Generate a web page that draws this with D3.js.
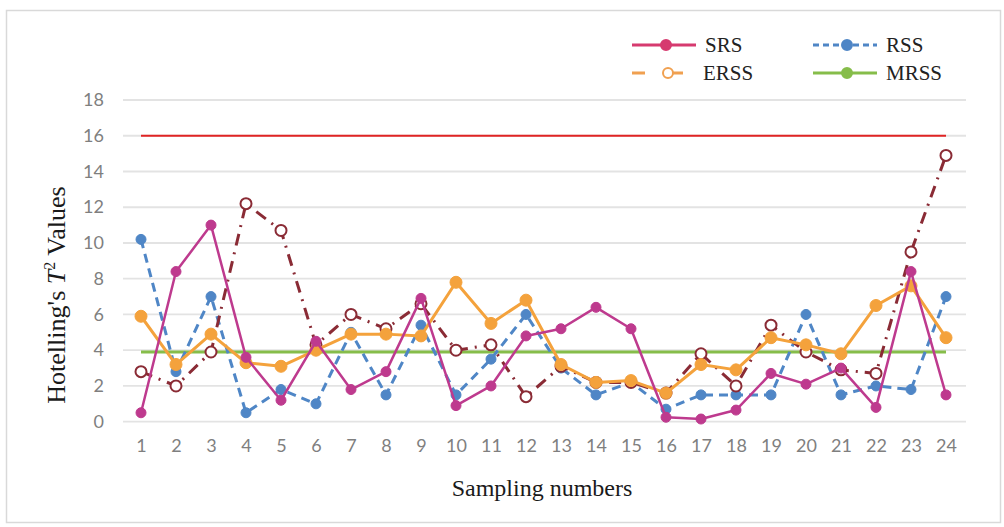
<!DOCTYPE html>
<html><head><meta charset="utf-8">
<script src="https://cdn.jsdelivr.net/npm/d3@7"></script>
<style>body{margin:0;background:#fff}svg{display:block}</style>
</head><body><svg id="c" width="1004" height="527"></svg>
<script>
const samples = d3.range(1, 25);
const yTicks = [0, 2, 4, 6, 8, 10, 12, 14, 16, 18];
const srs  = [0.5, 8.4, 11.0, 3.6, 1.2, 4.5, 1.8, 2.8, 6.9, 0.9, 2.0, 4.8, 5.2, 6.4, 5.2, 0.25, 0.15, 0.65, 2.7, 2.1, 3.0, 0.8, 8.4, 1.5];
const rss  = [10.2, 2.8, 7.0, 0.5, 1.8, 1.0, 5.0, 1.5, 5.4, 1.5, 3.5, 6.0, 3.0, 1.5, 2.2, 0.7, 1.5, 1.5, 1.5, 6.0, 1.5, 2.0, 1.8, 7.0];
const drss = [5.9, 3.2, 4.9, 3.3, 3.1, 4.0, 4.9, 4.9, 4.8, 7.8, 5.5, 6.8, 3.2, 2.2, 2.3, 1.6, 3.2, 2.9, 4.7, 4.3, 3.8, 6.5, 7.6, 4.7];
const erss = [2.8, 2.0, 3.9, 12.2, 10.7, 4.3, 6.0, 5.2, 6.6, 4.0, 4.3, 1.4, 3.1, 2.2, 2.2, 1.6, 3.8, 2.0, 5.4, 3.9, 2.9, 2.7, 9.5, 14.9];
const mrss = samples.map(() => 3.9);
const ucl = samples.map(() => 16);
const legendItems = [
  {name: "SRS", color: "#d63a6f", dash: null, open: false},
  {name: "RSS", color: "#4f86c6", dash: "6,4", open: false},
  {name: "ERSS", color: "#f0a050", dash: "13,18,20,20", open: true},
  {name: "MRSS", color: "#86bd4a", dash: null, open: false}
];

const svg = d3.select("#c");
svg.append("rect").attr("x", 6.5).attr("y", 10.5).attr("width", 994).attr("height", 512)
  .attr("fill", "#fff").attr("stroke", "#d9d9d9").attr("stroke-width", 1.5);

const x = d3.scalePoint().domain(samples).range([141, 946]);
const y = d3.scaleLinear().domain([0, 18]).range([421.7, 100]);

// gridlines
svg.append("g").selectAll("line").data(yTicks).join("line")
  .attr("x1", 123).attr("x2", 966).attr("y1", d => y(d)).attr("y2", d => y(d))
  .attr("stroke", "#e3e3e3").attr("stroke-width", 1.8);

// y axis labels
const yAxis = d3.axisLeft(y).tickValues(yTicks).tickSize(0).tickPadding(0);
const gy = svg.append("g").attr("transform", "translate(104,0)").call(yAxis);
gy.select(".domain").remove();
gy.selectAll("text").attr("font-family", "Lato, sans-serif").attr("font-size", 18).attr("fill", "#7f7f7f");

// x axis labels
const xAxis = d3.axisBottom(x).tickSize(0).tickPadding(0);
const gx = svg.append("g").attr("transform", "translate(0,439)").call(xAxis);
gx.select(".domain").remove();
gx.selectAll("text").attr("font-family", "Lato, sans-serif").attr("font-size", 18).attr("fill", "#7f7f7f");

const line = d3.line().x((d, i) => x(samples[i])).y(d => y(d));

function series(data, color, width, dash, marker) {
  svg.append("path").datum(data).attr("d", line).attr("fill", "none")
    .attr("stroke", color).attr("stroke-width", width)
    .attr("stroke-dasharray", dash || null).attr("stroke-linejoin", "round");
  if (marker) {
    svg.append("g").selectAll("circle").data(data).join("circle")
      .attr("cx", (d, i) => x(samples[i])).attr("cy", d => y(d)).attr("r", marker.r)
      .attr("fill", marker.fill).attr("stroke", marker.stroke).attr("stroke-width", marker.sw);
  }
}

series(ucl, "#e02424", 2.2, null, null);
series(mrss, "#86bd4a", 3, null, null);
series(rss, "#4f86c6", 3, "9,6", {r: 5, fill: "#4f86c6", stroke: "#4f86c6", sw: 1});
series(erss, "#8a2b35", 3, "12,7,2,7", {r: 5.5, fill: "#fff", stroke: "#8a2b35", sw: 2});
series(drss, "#f4a23c", 3, null, {r: 6, fill: "#f4a23c", stroke: "#f4a23c", sw: 1});
series(srs, "#be3a8e", 2.5, null, {r: 5, fill: "#be3a8e", stroke: "#be3a8e", sw: 1});

// legend
const legPos = [[632, 45], [813, 45], [632, 73], [813, 73]];
const lg = svg.append("g").selectAll("g").data(legendItems).join("g")
  .attr("transform", (d, i) => `translate(${legPos[i][0]},${legPos[i][1]})`);
lg.append("line").attr("x1", 0).attr("x2", 64).attr("y1", 0).attr("y2", 0)
  .attr("stroke", d => d.color).attr("stroke-width", 3)
  .attr("stroke-dasharray", d => d.dash);
lg.append("circle").attr("cx", d => d.open ? 36 : 34).attr("cy", 0).attr("r", 5)
  .attr("fill", d => d.open ? "#fff" : d.color).attr("stroke", d => d.color).attr("stroke-width", 2);
lg.append("text").attr("x", (d, i) => i === 2 ? 71 : 73).attr("y", 0).attr("dy", "0.35em")
  .attr("font-family", "'Liberation Serif', serif").attr("font-size", 21).attr("fill", "#222")
  .text(d => d.name);

// axis titles
const yt = svg.append("text").attr("transform", "translate(65,295) rotate(-90)")
  .attr("text-anchor", "middle").attr("font-family", "'Liberation Serif', serif")
  .attr("font-size", 26).attr("fill", "#1a1a1a");
yt.append("tspan").text("Hotelling's ");
yt.append("tspan").attr("font-style", "italic").text("T");
yt.append("tspan").attr("font-size", 16).attr("dy", -10).text("2");
yt.append("tspan").attr("dy", 10).text(" Values");

svg.append("text").attr("x", 542).attr("y", 496).attr("text-anchor", "middle")
  .attr("font-family", "'Liberation Serif', serif").attr("font-size", 24).attr("fill", "#1a1a1a")
  .text("Sampling numbers");
</script></body></html>
